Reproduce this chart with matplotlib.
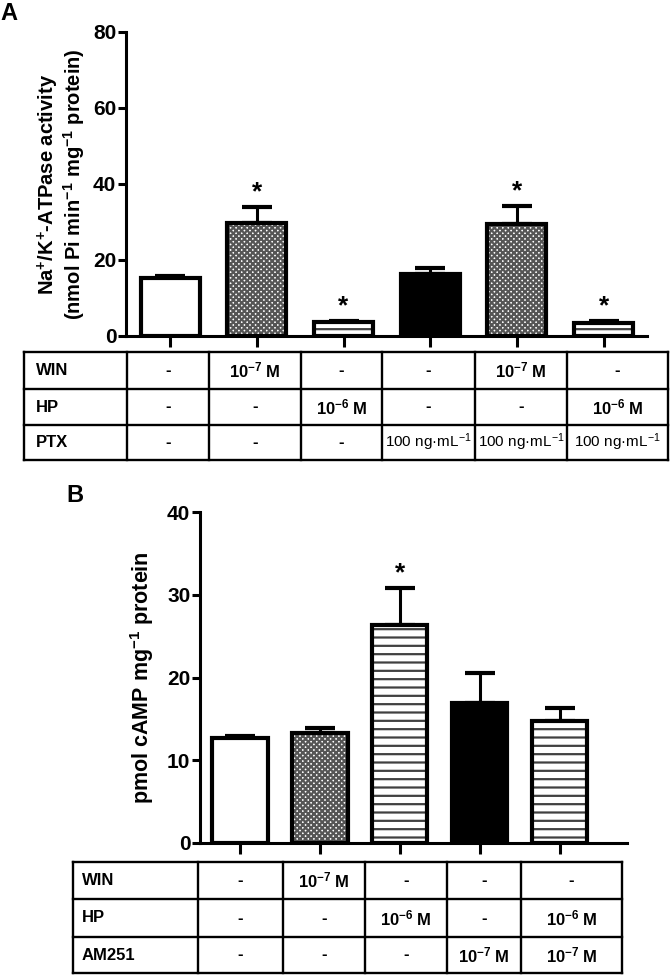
import numpy as np
import matplotlib
matplotlib.use("Agg")
import matplotlib.pyplot as plt

plt.rcParams['font.family'] = ['Liberation Sans', 'DejaVu Sans']
plt.rcParams['mathtext.default'] = 'regular'
plt.rcParams['hatch.linewidth'] = 1.6

# Panel A: Na+/K+-ATPase activity
a_values = [15.2, 29.8, 3.6, 16.2, 29.6, 3.5]
a_errors = [0.6, 4.2, 0.4, 1.6, 4.5, 0.4]
a_signif = [False, True, True, False, True, True]
a_styles = ['white', 'check', 'stripe', 'black', 'check', 'stripe']
a_rows = ['WIN', 'HP', 'PTX']
a_cells = [
    ['-', '10$^{-7}$ M', '-', '-', '10$^{-7}$ M', '-'],
    ['-', '-', '10$^{-6}$ M', '-', '-', '10$^{-6}$ M'],
    ['-', '-', '-', '100 ng·mL$^{-1}$', '100 ng·mL$^{-1}$', '100 ng·mL$^{-1}$'],
]
a_yticks = [0, 20, 40, 60, 80]

# Panel B: cAMP
b_values = [12.7, 13.3, 26.4, 16.9, 14.7]
b_errors = [0.2, 0.6, 4.4, 3.7, 1.6]
b_signif = [False, False, True, False, False]
b_styles = ['white', 'check', 'stripe', 'black', 'stripe']
b_rows = ['WIN', 'HP', 'AM251']
b_cells = [
    ['-', '10$^{-7}$ M', '-', '-', '-'],
    ['-', '-', '10$^{-6}$ M', '-', '10$^{-6}$ M'],
    ['-', '-', '-', '10$^{-7}$ M', '10$^{-7}$ M'],
]
b_yticks = [0, 10, 20, 30, 40]

W, H = 670, 976


def box(left, top, right, bottom):
    return [left / W, 1 - bottom / H, (right - left) / W, (bottom - top) / H]


def draw_bars(ax, values, errors, signif, styles, width):
    x = np.arange(len(values))
    for xi, v, s in zip(x, values, styles):
        if s == 'white':
            ax.bar(xi, v, width, color='white', zorder=2)
        elif s == 'black':
            ax.bar(xi, v, width, color='black', zorder=2)
        elif s == 'check':
            ax.bar(xi, v, width, color='white', edgecolor='#555555',
                   hatch='xxxxxx', linewidth=0, zorder=2)
        else:
            ax.bar(xi, v, width, color='white', edgecolor='#404040',
                   hatch='--', linewidth=0, zorder=2)
        ax.bar(xi, v, width, fill=False, edgecolor='black', linewidth=3, zorder=3)
    ax.errorbar(x, values, yerr=[np.zeros(len(values)), errors], fmt='none',
                ecolor='black', elinewidth=2.2, capsize=11, capthick=3, zorder=1)
    for xi, v, e, s in zip(x, values, errors, signif):
        if s:
            ax.annotate('*', xy=(xi, v + e), xytext=(0, 2), textcoords='offset points',
                        ha='center', va='bottom', fontsize=19, fontweight='bold')
    ax.set_xticks(x)
    ax.set_xticklabels([])
    ax.tick_params(axis='x', length=8, width=2.2, direction='out')
    ax.tick_params(axis='y', length=6, width=2.2, labelsize=15, pad=1)
    for lab in ax.get_yticklabels():
        lab.set_fontweight('bold')
    ax.spines['top'].set_visible(False)
    ax.spines['right'].set_visible(False)
    ax.spines['left'].set_linewidth(2.2)
    ax.spines['bottom'].set_linewidth(2.2)
    ax.set_facecolor('none')


def draw_table(ax, cols, rows, labels, cells, label_x):
    lw = 1.7
    for y in rows:
        ax.plot([cols[0], cols[-1]], [y, y], color='black', lw=lw)
    for c in cols:
        ax.plot([c, c], [rows[0], rows[-1]], color='black', lw=lw)
    for i, lab in enumerate(labels):
        yc = (rows[i] + rows[i + 1]) / 2
        ax.text(label_x, yc, lab, ha='left', va='center', fontsize=12,
                fontweight='bold')
        for j, t in enumerate(cells[i]):
            xc = (cols[j + 1] + cols[j + 2]) / 2
            if 'ng' in t:
                ax.text(xc, yc, t, ha='center', va='center', fontsize=11)
            else:
                ax.text(xc, yc, t, ha='center', va='center', fontsize=12,
                        fontweight='bold')


fig = plt.figure(figsize=(W / 100, H / 100), dpi=100)

axA = fig.add_axes(box(126, 32, 647, 336))
draw_bars(axA, a_values, a_errors, a_signif, a_styles, 0.68)
axA.set_xlim(-0.51, 5.5)
axA.set_ylim(0, 80)
axA.set_yticks(a_yticks)
axA.set_ylabel('Na$^{+}$/K$^{+}$-ATPase activity\n(nmol Pi min$^{-1}$ mg$^{-1}$ protein)',
               fontsize=14.5, fontweight='bold', labelpad=4, linespacing=1.05)

axB = fig.add_axes(box(200, 512, 627, 843))
draw_bars(axB, b_values, b_errors, b_signif, b_styles, 0.69)
axB.set_xlim(-0.5, 4.84)
axB.set_ylim(0, 40)
axB.set_yticks(b_yticks)
axB.set_ylabel('pmol cAMP mg$^{-1}$ protein', fontsize=15.5, fontweight='bold',
               labelpad=8)

# overlay in pixel coordinates for the tables and panel letters
ov = fig.add_axes([0, 0, 1, 1])
ov.set_xlim(0, W)
ov.set_ylim(H, 0)
ov.axis('off')
ov.patch.set_alpha(0)

draw_table(ov, [24, 127, 209, 301, 382, 475, 567, 668], [352, 389, 425, 460],
           a_rows, a_cells, 36)
draw_table(ov, [73, 198, 283, 365, 447, 521, 622], [862, 899, 937, 973],
           b_rows, b_cells, 82)

ov.text(0, 14, 'A', fontsize=17, fontweight='bold', va='center', ha='left')
ov.text(66, 496, 'B', fontsize=17, fontweight='bold', va='center', ha='left')

fig.savefig('out.png', dpi=100)
